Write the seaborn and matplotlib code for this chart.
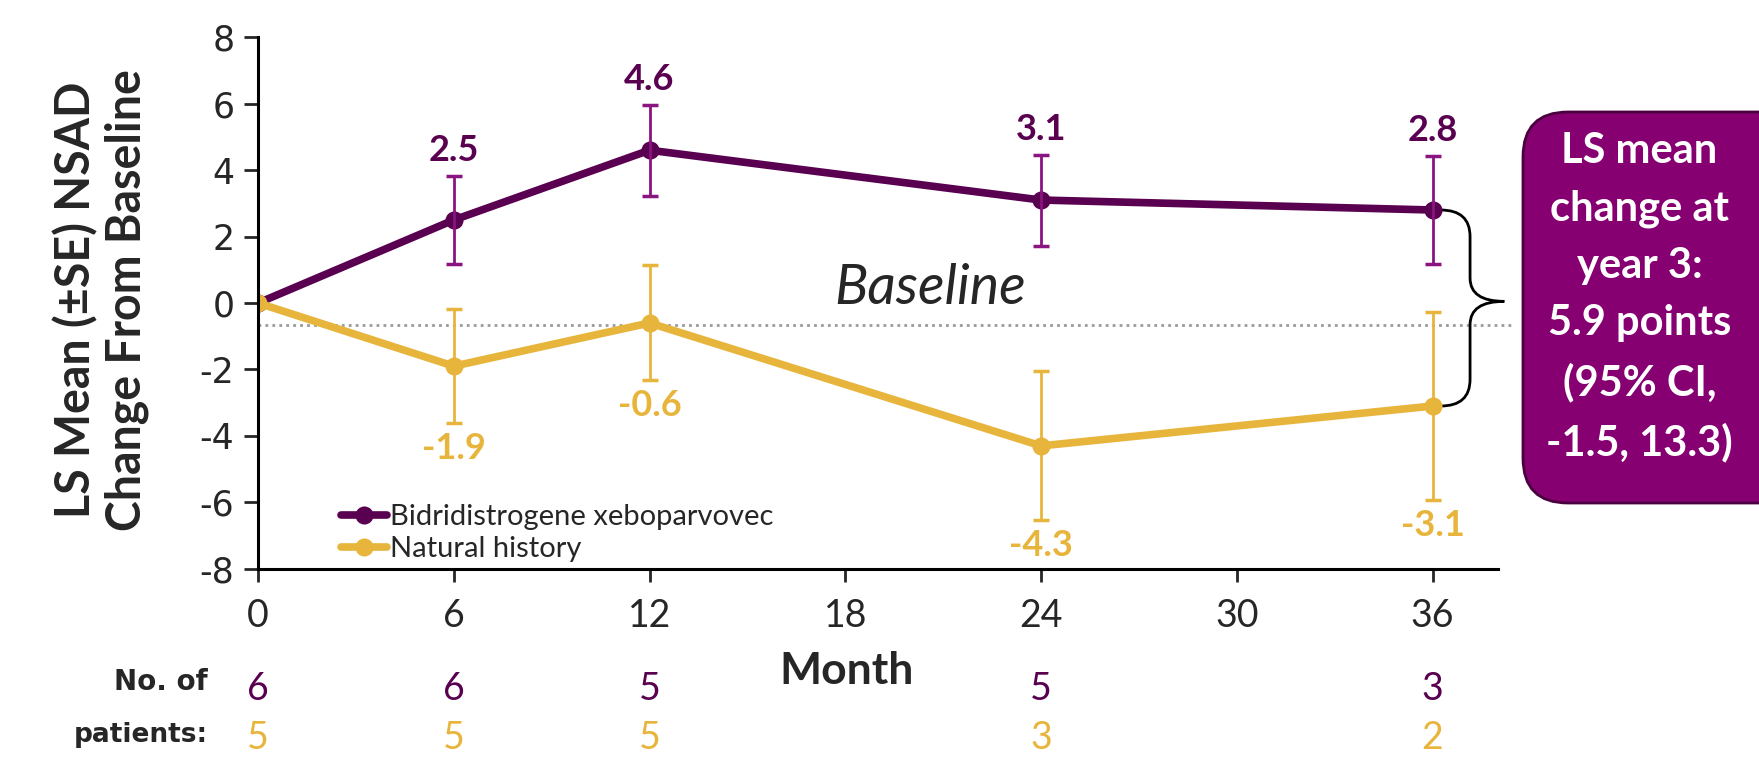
import numpy as np
import pandas as pd
import matplotlib.pyplot as plt
import seaborn as sns
from matplotlib.path import Path
from matplotlib.patches import PathPatch, FancyBboxPatch
from matplotlib.transforms import IdentityTransform, blended_transform_factory

months = [0, 6, 12, 24, 36]
bidri_mean = [0, 2.5, 4.6, 3.1, 2.8]
bidri_se = [0, 1.33, 1.37, 1.37, 1.64]
nat_mean = [0, -1.9, -0.6, -4.3, -3.1]
nat_se = [0, 1.72, 1.73, 2.24, 2.84]
bidri_n = [6, 6, 5, 5, 3]
nat_n = [5, 5, 5, 3, 2]
groups = ["Bidridistrogene xeboparvovec", "Natural history"]
baseline_level = -0.66

purple = "#5a0050"
purple_err = "#8a1480"
yellow = "#e8b53c"
box_purple = "#870072"

sns.set_style("ticks")
plt.rcParams["font.family"] = ["Lato", "DejaVu Sans"]
plt.rcParams["axes.unicode_minus"] = False

df = pd.DataFrame({
    "month": months * 2,
    "mean": bidri_mean + nat_mean,
    "group": [groups[0]] * len(months) + [groups[1]] * len(months),
})

fig = plt.figure(figsize=(17.59, 7.76), dpi=100)
ax = fig.add_axes([0.1467, 0.267, 0.7048, 0.685])

sns.lineplot(data=df, x="month", y="mean", hue="group", hue_order=groups,
             palette={groups[0]: purple, groups[1]: yellow},
             marker="o", markersize=13, markeredgewidth=0, linewidth=5.5, ax=ax)

# error bars (no bar at baseline)
for mean, se, col in [(bidri_mean, bidri_se, purple_err), (nat_mean, nat_se, yellow)]:
    ax.errorbar(months[1:], mean[1:], yerr=se[1:], fmt="none", ecolor=col,
                elinewidth=2, capsize=6, capthick=2.5, zorder=5)

for m, v, s in zip(months[1:], bidri_mean[1:], bidri_se[1:]):
    ax.annotate(f"{v:.1f}", (m, v + s), xytext=(0, 6), textcoords="offset points",
                ha="center", va="bottom", color=purple, fontsize=26, fontweight="bold")
for m, v, s in zip(months[1:], nat_mean[1:], nat_se[1:]):
    ax.annotate(f"{v:.1f}", (m, v - s), xytext=(0, -6), textcoords="offset points",
                ha="center", va="top", color=yellow, fontsize=26, fontweight="bold")

# dotted baseline
ax.plot([0, 38.4], [baseline_level, baseline_level], ls=(0, (1, 1.5)), color="#9a9a9a",
        lw=2, clip_on=False, zorder=1)
ax.text(20.6, 0.45, "Baseline", style="italic", fontsize=40, ha="center", va="center")

# brace between the month-36 points
bx, tip = 37.15, 38.2
ymid = (bidri_mean[-1] + nat_mean[-1]) / 2 + 0.2
verts = [(36.25, bidri_mean[-1]), (bx, bidri_mean[-1]), (bx, bidri_mean[-1] - 0.8),
         (bx, ymid + 0.7),
         (bx, ymid), (tip, ymid), (tip, ymid),
         (tip, ymid), (bx, ymid), (bx, ymid - 0.7),
         (bx, nat_mean[-1] + 0.8),
         (bx, nat_mean[-1]), (36.25, nat_mean[-1])]
codes = [Path.MOVETO, Path.CURVE3, Path.CURVE3, Path.LINETO,
         Path.CURVE3, Path.CURVE3, Path.LINETO,
         Path.MOVETO, Path.CURVE3, Path.CURVE3, Path.LINETO,
         Path.CURVE3, Path.CURVE3]
ax.add_patch(PathPatch(Path(verts, codes), fill=False, lw=2, color="black", clip_on=False))

ax.set_xlim(0, 38)
ax.set_ylim(-8, 8)
ax.set_xticks([0, 6, 12, 18, 24, 30, 36])
ax.set_yticks(range(-8, 9, 2))
ax.set_xlabel("")
ax.set_ylabel("")
sns.despine(ax=ax)
for sp in ["left", "bottom"]:
    ax.spines[sp].set_linewidth(2.2)
    ax.spines[sp].set_color("black")
ax.tick_params(axis="x", length=9, width=2, pad=12, labelsize=27)
ax.tick_params(axis="y", length=10, width=2, pad=7, labelsize=25)
for lab in ax.get_yticklabels():
    lab.set_family("DejaVu Sans")

leg = ax.legend(loc="lower left", bbox_to_anchor=(0.055, -0.015), frameon=False,
                fontsize=21, handlelength=1.6, handletextpad=0.1, labelspacing=0.2,
                borderpad=0)

fig.text(0.0575, 0.613, "LS Mean (\u00b1SE) NSAD\nChange From Baseline", rotation=90,
         ha="center", va="center", fontsize=33.5, fontweight="bold", linespacing=1.15)
fig.text(0.4815, 0.135, "Month", ha="center", va="center", fontsize=32, fontweight="bold")

# patients at risk
trans = blended_transform_factory(ax.transData, fig.transFigure)
for m, a, b in zip(months, bidri_n, nat_n):
    ax.text(m, 0.112, str(a), transform=trans, ha="center", va="center", fontsize=27, color=purple)
    ax.text(m, 0.049, str(b), transform=trans, ha="center", va="center", fontsize=27, color=yellow)
fig.text(0.118, 0.121, "No. of", ha="right", va="center", fontsize=20, fontweight="bold",
         family="DejaVu Sans")
fig.text(0.118, 0.053, "patients:", ha="right", va="center", fontsize=19, fontweight="bold",
         family="DejaVu Sans")

# callout box
box = FancyBboxPatch((1523, 273), 320, 391, boxstyle="round,pad=0,rounding_size=45",
                     transform=IdentityTransform(), facecolor=box_purple,
                     edgecolor="#4a003f", linewidth=2)
fig.add_artist(box)
fig.text(0.932, 0.617, "LS mean\nchange at\nyear 3:\n5.9 points\n(95% CI,\n-1.5, 13.3)",
         ha="center", va="center", color="white", fontsize=30, fontweight="bold",
         linespacing=1.62)

fig.savefig("out.png", dpi=100)
